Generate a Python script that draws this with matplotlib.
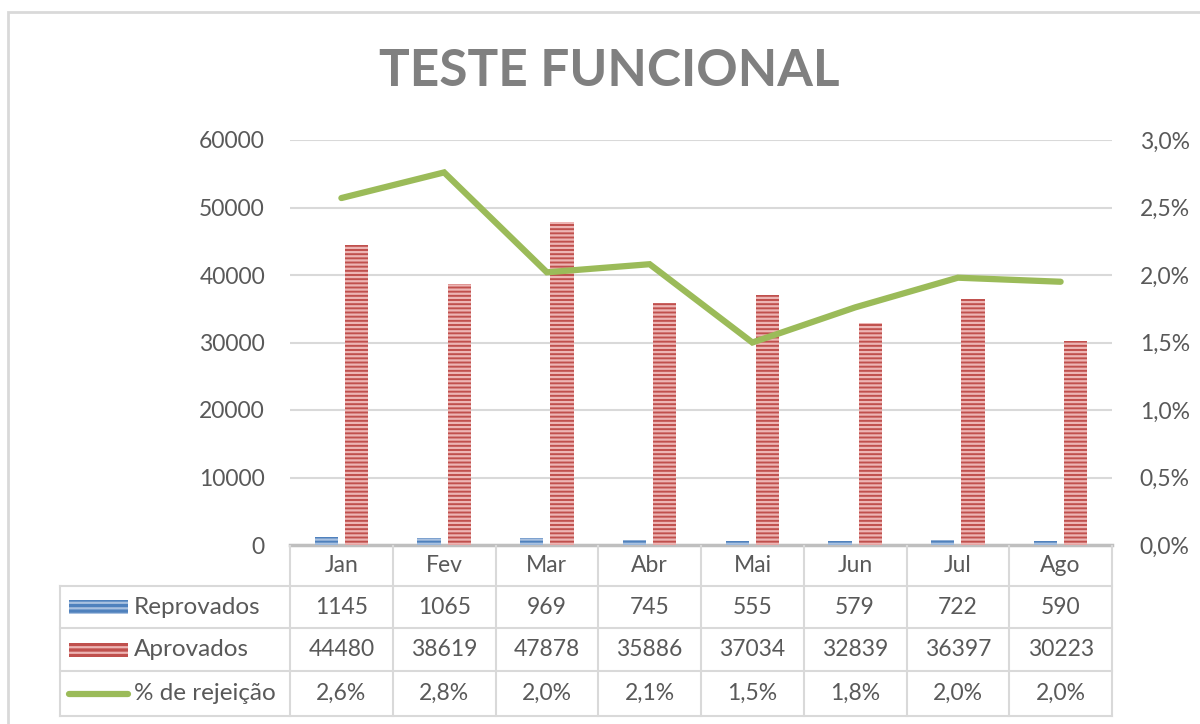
import matplotlib
matplotlib.use("Agg")
import matplotlib.pyplot as plt
from matplotlib.patches import Rectangle
from matplotlib.lines import Line2D

plt.rcParams['font.family'] = ['Lato', 'DejaVu Sans']
plt.rcParams['hatch.linewidth'] = 1.6

months = ["Jan", "Fev", "Mar", "Abr", "Mai", "Jun", "Jul", "Ago"]
reprovados = [1145, 1065, 969, 745, 555, 579, 722, 590]
aprovados = [44480, 38619, 47878, 35886, 37034, 32839, 36397, 30223]
rejeicao = [2.57, 2.76, 2.02, 2.08, 1.50, 1.76, 1.98, 1.95]
rejeicao_labels = ["2,6%", "2,8%", "2,0%", "2,1%", "1,5%", "1,8%", "2,0%", "2,0%"]
series_names = ["Reprovados", "Aprovados", "% de rejeição"]
left_ticks = [0, 10000, 20000, 30000, 40000, 50000, 60000]
right_ticks = [0.0, 0.5, 1.0, 1.5, 2.0, 2.5, 3.0]
right_tick_labels = ["0,0%", "0,5%", "1,0%", "1,5%", "2,0%", "2,5%", "3,0%"]

W, H = 1200, 724
fig = plt.figure(figsize=(W / 100, H / 100), dpi=100)

def fx(px):
    return px / W

def fy(py):
    return 1 - py / H

# chart border
fig.patches.append(Rectangle((fx(8), fy(1000)), fx(1300), fy(12) - fy(1000),
                             transform=fig.transFigure, fill=False,
                             edgecolor="#d9d9d9", linewidth=2))

x0, x1 = 290, 1112
ytop, ybot = 140, 545
ax = fig.add_axes([fx(x0), fy(ybot), fx(x1) - fx(x0), fy(ytop) - fy(ybot)])
ax2 = ax.twinx()

blue = "#4F81BD"
red = "#C0504D"
green = "#9BBB59"
text_gray = "#595959"

xs = list(range(len(months)))
bw = 0.225
gap = 0.07
ax.bar([x - (bw + gap) / 2 for x in xs], reprovados, width=bw, color=blue,
       hatch="----", edgecolor="#A9C1E0", linewidth=0, zorder=3)
ax.bar([x + (bw + gap) / 2 for x in xs], aprovados, width=bw, color=red,
       hatch="----", edgecolor="#EDB5B4", linewidth=0, zorder=3)

ax.set_xlim(-0.5, len(months) - 0.5)
ax.set_ylim(0, 60000)
ax.set_yticks(left_ticks)
ax.set_yticklabels([str(v) for v in left_ticks])
ax.yaxis.grid(True, color="#d9d9d9", linewidth=1.5)
ax.set_axisbelow(True)
ax.set_xticks([])
for s in ["top", "left", "right"]:
    ax.spines[s].set_visible(False)
ax.spines["bottom"].set_color("#bfbfbf")
ax.spines["bottom"].set_linewidth(2.5)
ax.tick_params(axis="y", length=0, pad=18, labelsize=16.5, labelcolor=text_gray)

ax2.plot(xs, rejeicao, color=green, linewidth=4.5, solid_capstyle="round",
         solid_joinstyle="miter", zorder=5)
ax2.set_ylim(0, 3.0)
ax2.set_yticks(right_ticks)
ax2.set_yticklabels(right_tick_labels)
ax2.tick_params(axis="y", length=0, pad=20, labelsize=16.5, labelcolor=text_gray)
for s in ["top", "left", "right", "bottom"]:
    ax2.spines[s].set_visible(False)

# title
fig.text(fx(609), fy(72), "TESTE FUNCIONAL", ha="center", va="center",
         fontsize=37, fontweight="bold", color="#808080")

# data table
line_color = "#d9d9d9"
tf = fig.transFigure
col_w = (x1 - x0) / len(months)
row_y = [545, 586, 628, 671, 716]
tbl_left = 60

def hline(y, xa, xb):
    fig.add_artist(Line2D([fx(xa), fx(xb)], [fy(y), fy(y)], transform=tf,
                          color=line_color, linewidth=1.5))

def vline(x, ya, yb):
    fig.add_artist(Line2D([fx(x), fx(x)], [fy(ya), fy(yb)], transform=tf,
                          color=line_color, linewidth=1.5))

for y in row_y[1:]:
    hline(y, tbl_left, x1)
vline(tbl_left, row_y[1], row_y[-1])
for i in range(len(months) + 1):
    vline(x0 + i * col_w, row_y[0] + 1, row_y[-1])

fs = 16.5
for i, m in enumerate(months):
    cx = x0 + (i + 0.5) * col_w
    fig.text(fx(cx), fy((row_y[0] + row_y[1]) / 2), m, ha="center", va="center",
             fontsize=fs, color=text_gray)
    fig.text(fx(cx), fy((row_y[1] + row_y[2]) / 2), str(reprovados[i]), ha="center",
             va="center", fontsize=fs, color=text_gray)
    fig.text(fx(cx), fy((row_y[2] + row_y[3]) / 2), str(aprovados[i]), ha="center",
             va="center", fontsize=fs, color=text_gray)
    fig.text(fx(cx), fy((row_y[3] + row_y[4]) / 2), rejeicao_labels[i], ha="center",
             va="center", fontsize=fs, color=text_gray)

# legend keys in table
key_x0, key_x1 = 69, 128
fs_name = 17.5
for r, (name, col, ecol) in enumerate([(series_names[0], blue, "#A9C1E0"),
                                       (series_names[1], red, "#EDB5B4")]):
    yc = (row_y[r + 1] + row_y[r + 2]) / 2
    fig.patches.append(Rectangle((fx(key_x0), fy(yc + 7)), fx(key_x1) - fx(key_x0),
                                 fy(yc - 7) - fy(yc + 7), transform=tf,
                                 facecolor=col, hatch="---", edgecolor=ecol,
                                 linewidth=0))
    fig.text(fx(134), fy(yc), name, ha="left", va="center", fontsize=fs_name,
             color=text_gray)
yc = (row_y[3] + row_y[4]) / 2
fig.add_artist(Line2D([fx(69), fx(128)], [fy(yc), fy(yc)], transform=tf,
                      color=green, linewidth=4.5, solid_capstyle="round"))
fig.text(fx(134), fy(yc), series_names[2], ha="left", va="center", fontsize=fs_name,
         color=text_gray)

fig.savefig("out.png", dpi=100)
